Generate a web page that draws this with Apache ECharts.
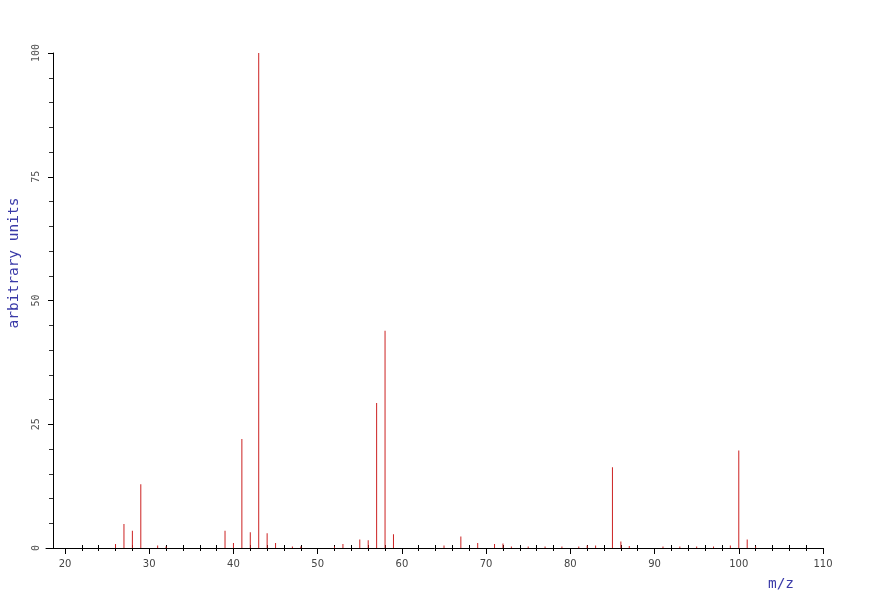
<!DOCTYPE html>
<html>
<head>
<meta charset="utf-8">
<script src="https://cdn.jsdelivr.net/npm/echarts@6/dist/echarts.min.js"></script>
<style>
html,body{margin:0;padding:0;background:#fff;}
#chart{width:871px;height:591px;}
</style>
</head>
<body>
<div id="chart"></div>
<script>
// m/z values and relative intensities
const mz = [26, 27, 28, 29, 31, 32, 39, 40, 41, 42, 43, 44, 45, 47, 48,
            52, 53, 55, 56, 57, 58, 59, 65, 67, 69, 71, 72, 73, 75, 77,
            79, 81, 82, 83, 85, 86, 87, 91, 93, 95, 97, 99, 100, 101, 102];
const intensity = [0.8, 4.85, 3.5, 12.9, 0.5, 0.3, 3.5, 1.0, 22.0, 3.2, 100, 3.0, 1.0, 0.3, 0.3,
                   0.3, 0.8, 1.7, 1.55, 29.3, 43.9, 2.8, 0.5, 2.3, 1.0, 0.8, 0.9, 0.3, 0.3, 0.3,
                   0.3, 0.3, 0.5, 0.5, 16.3, 1.3, 0.4, 0.3, 0.3, 0.3, 0.3, 0.5, 19.7, 1.7, 0.3];
const xTicks = {min: 20, max: 110, step: 10};
const yTicks = {min: 0, max: 100, step: 25};
const xTitle = 'm/z';
const yTitle = 'arbitrary units';

const peaks = mz.map((m, i) => [m, intensity[i]]);

const chart = echarts.init(document.getElementById('chart'), null, {renderer: 'canvas'});
const black = '#000';
const titleColor = '#3a3aa8';
chart.setOption({
  animation: false,
  backgroundColor: '#fff',
  grid: [
    {left: 65, right: 48, top: 53, bottom: 43},
    {left: 46, right: 48, top: 53, bottom: 43}
  ],
  xAxis: [
    {
      type: 'value', gridIndex: 0, position: 'bottom',
      min: xTicks.min, max: xTicks.max, interval: xTicks.step,
      axisLine: {show: false},
      axisTick: {show: true, length: 6, lineStyle: {color: black, width: 1}},
      minorTick: {show: true, splitNumber: 5, length: 3, lineStyle: {color: black, width: 1}},
      axisLabel: {margin: 11, fontFamily: 'DejaVu Sans', fontSize: 10, color: '#444'},
      splitLine: {show: false}
    },
    {
      type: 'value', gridIndex: 1, position: 'bottom', min: 0, max: 1,
      axisLine: {show: true, onZero: false, lineStyle: {color: black, width: 1}},
      axisTick: {show: false}, axisLabel: {show: false}, splitLine: {show: false}
    },
    {
      type: 'value', gridIndex: 0, position: 'bottom',
      min: xTicks.min, max: xTicks.max, interval: xTicks.step,
      axisLine: {show: false}, axisLabel: {show: false}, splitLine: {show: false},
      axisTick: {show: false, inside: true},
      minorTick: {show: true, splitNumber: 5, length: 3, lineStyle: {color: black, width: 1}}
    }
  ],
  yAxis: [
    {
      type: 'value', gridIndex: 0, position: 'left', offset: 12,
      min: yTicks.min, max: yTicks.max, interval: yTicks.step,
      axisLine: {show: true, lineStyle: {color: black, width: 1}},
      axisTick: {show: true, length: 5, lineStyle: {color: black, width: 1}},
      minorTick: {show: true, splitNumber: 5, length: 4, lineStyle: {color: '#333', width: 1}},
      axisLabel: {rotate: 90, margin: 12, fontFamily: 'DejaVu Sans Mono', fontSize: 10, color: '#555'},
      splitLine: {show: false}
    },
    {type: 'value', gridIndex: 1, show: false, min: 0, max: 1}
  ],
  graphic: [
    {type: 'text', x: 14, y: 263, rotation: Math.PI / 2,
     style: {text: yTitle, fill: titleColor, font: '14.5px "DejaVu Sans Mono"', textAlign: 'center', textVerticalAlign: 'middle'}},
    {type: 'text', x: 781, y: 584,
     style: {text: xTitle, fill: titleColor, font: '14.5px "DejaVu Sans Mono"', textAlign: 'center', textVerticalAlign: 'middle'}}
  ],
  series: [
    {
      type: 'bar', xAxisIndex: 0, yAxisIndex: 0,
      data: peaks, barWidth: 1,
      itemStyle: {color: '#cc2222'},
      silent: true
    }
  ]
});
</script>
</body>
</html>
